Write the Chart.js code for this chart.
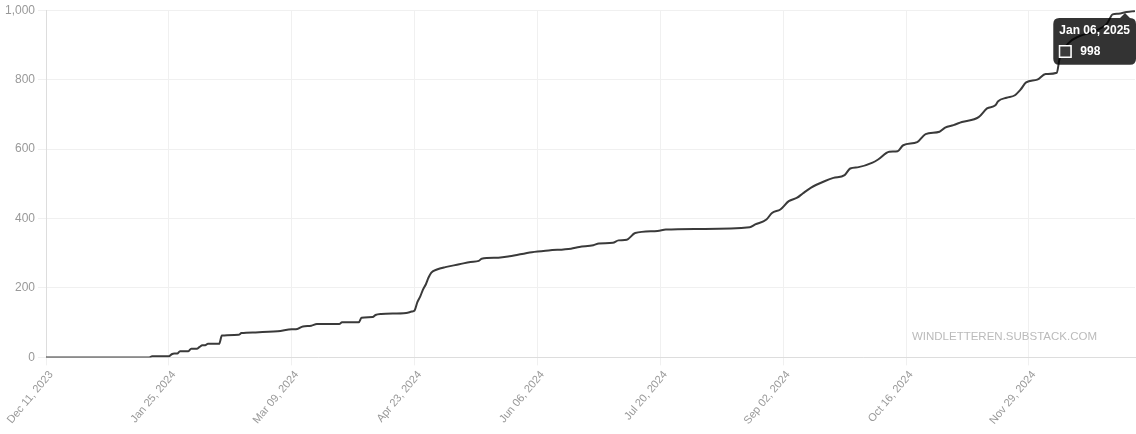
<!DOCTYPE html>
<html>
<head>
<meta charset="utf-8">
<script src="https://cdn.jsdelivr.net/npm/chart.js@4/dist/chart.umd.min.js"></script>
<style>
  html, body { margin: 0; padding: 0; background: #fff; }
  #wrap { width: 1136px; height: 434px; position: relative; }
</style>
</head>
<body>
<div id="wrap"><canvas id="chart"></canvas></div>
<script>
// x positions are row numbers in the original daily list (Dec 11, 2023 = 0, Jan 06, 2025 = 390)
var dayIndex = [0, 37, 38, 44, 45, 46, 47, 48, 51, 52, 54, 55, 56, 57, 58, 62, 63, 69, 70, 75,
                83, 88, 90, 92, 95, 97, 105, 106, 112, 113, 117, 118, 120, 129, 131, 132, 133, 134, 135, 136,
                137, 138, 140, 143, 148, 152, 155, 156, 162, 166, 174, 180, 188, 191, 196, 198, 203, 205, 208, 211,
                219, 222, 234, 252, 254, 258, 260, 263, 266, 269, 271, 274, 279, 282, 286, 288, 291, 296, 298, 302,
                305, 307, 312, 315, 320, 322, 325, 328, 334, 337, 340, 341, 344, 347, 349, 351, 355, 358, 362, 363,
                366, 370, 375, 380, 382, 384, 387, 390];
var members = [0, 0, 3, 3, 9, 11, 11, 18, 18, 25, 25, 30, 35, 35, 39, 39, 63, 65, 70, 72,
               75, 81, 82, 89, 91, 96, 96, 101, 101, 114, 116, 122, 125, 128, 132, 135, 159, 175, 195, 210,
               230, 244, 253, 260, 268, 275, 278, 284, 287, 291, 303, 308, 313, 318, 323, 328, 330, 337, 339, 358,
               364, 368, 370, 375, 383, 397, 416, 426, 450, 460, 472, 489, 508, 517, 525, 544, 548, 561, 570, 592,
               594, 611, 620, 643, 650, 662, 669, 678, 692, 717, 726, 738, 748, 755, 771, 792, 800, 816, 820, 861,
               904, 925, 938, 962, 988, 990, 995, 998];

var tickIndex = [0, 44, 88, 132, 176, 220, 264, 308, 352];
var tickLabels = ['Dec 11, 2023', 'Jan 25, 2024', 'Mar 09, 2024', 'Apr 23, 2024', 'Jun 06, 2024',
                  'Jul 20, 2024', 'Sep 02, 2024', 'Oct 16, 2024', 'Nov 29, 2024'];
var hoverLabel = 'Jan 06, 2025';
var watermark = 'WINDLETTEREN.SUBSTACK.COM';

var points = dayIndex.map(function (d, i) {
    return { x: d, y: members[i] };
});

// Source credit in the lower right corner of the plot
var watermarkPlugin = {
    id: 'watermark',
    beforeDatasetsDraw: function (chart) {
        var ctx = chart.ctx;
        var area = chart.chartArea;
        ctx.save();
        ctx.font = '11.5px "Liberation Sans", Arial, sans-serif';
        ctx.fillStyle = '#bbbbbb';
        ctx.textAlign = 'right';
        ctx.textBaseline = 'alphabetic';
        ctx.fillText(watermark, area.right - 38, area.bottom - 17);
        ctx.restore();
    }
};

Chart.defaults.font.family = '"Liberation Sans", Arial, sans-serif';
Chart.defaults.font.size = 12;

var chart = new Chart(document.getElementById('chart'), {
    type: 'line',
    data: {
        datasets: [{
            data: points,
            borderColor: '#3a3a3a',
            backgroundColor: '#3a3a3a',
            borderWidth: 2,
            pointRadius: 0,
            pointHoverRadius: 0,
            cubicInterpolationMode: 'monotone',
            fill: false
        }]
    },
    options: {
        responsive: true,
        maintainAspectRatio: false,
        animation: false,
        layout: { padding: { bottom: 4 } },
        plugins: {
            legend: { display: false },
            tooltip: {
                mode: 'nearest',
                intersect: false,
                titleFont: { weight: 'bold', size: 12 },
                bodyFont: { weight: 'bold', size: 12 },
                boxPadding: 7,
                callbacks: {
                    title: function () { return hoverLabel; },
                    labelColor: function () {
                        return { borderColor: '#ffffff', backgroundColor: '#3a3a3a' };
                    }
                }
            }
        },
        scales: {
            x: {
                type: 'linear',
                min: 0,
                max: 390,
                afterBuildTicks: function (scale) {
                    scale.ticks = tickIndex.map(function (v) { return { value: v }; });
                },
                afterFit: function (scale) {
                    // the rotated first label would push the plot right; keep it at 46px
                    scale.paddingLeft = 46;
                },
                ticks: {
                    autoSkip: false,
                    minRotation: 50,
                    maxRotation: 50,
                    labelOffset: 5,
                    font: { size: 11 },
                    color: '#999999',
                    callback: function (value, i) { return tickLabels[i]; }
                },
                grid: { color: '#f0f0f0' },
                border: { color: '#dddddd' }
            },
            y: {
                min: 0,
                max: 1000,
                ticks: { stepSize: 200, color: '#999999' },
                grid: { color: '#f0f0f0' },
                border: { color: '#dddddd' }
            }
        }
    },
    plugins: [watermarkPlugin]
});

// show the tooltip for the last day, as in the screenshot
chart.tooltip.setActiveElements([{ datasetIndex: 0, index: members.length - 1 }], { x: 1130, y: 10 });
chart.update('none');
</script>
</body>
</html>
